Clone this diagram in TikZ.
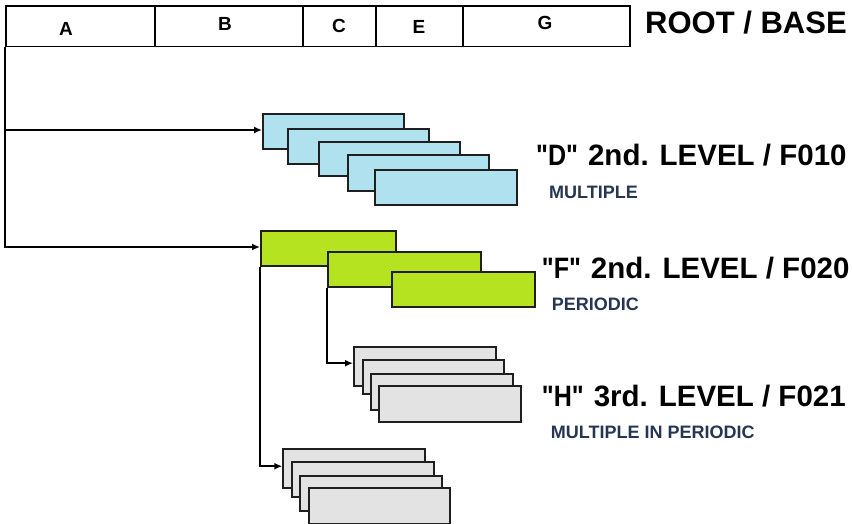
\documentclass[tikz,border=0pt]{standalone}
\usepackage{fontspec}
\setmainfont{Liberation Sans}[Ligatures=TeXOff]
\usetikzlibrary{arrows.meta}
\definecolor{boxblue}{HTML}{B0E1EE}
\definecolor{boxgreen}{HTML}{B5E31F}
\definecolor{boxgray}{HTML}{E3E3E3}
\definecolor{subtxt}{HTML}{263553}
\newcommand{\narrowtxt}[1]{\scalebox{0.85}[1]{#1}}
\newcommand{\qq}[1]{\narrowtxt{"#1"}}
\begin{document}
\begin{tikzpicture}[x=1pt,y=-1pt,
  cell/.style={draw=black,line width=1.6pt,minimum height=40.7pt,anchor=north west,inner sep=0pt},
  letter/.style={anchor=base,inner sep=0pt,font=\fontsize{19}{19}\selectfont\bfseries},
  card/.style={draw=black!88,line width=2pt,fill=#1,anchor=north west,inner sep=0pt},
  sz/.style 2 args={minimum width=#1pt,minimum height=#2pt},
  conn/.style={draw=black,line width=1.6pt,-{Latex[length=8pt,width=7pt]}},
  big/.style={anchor=base west,inner sep=0pt,font=\fontsize{29.5}{29.5}\selectfont\bfseries},
  small/.style={anchor=base west,inner sep=0pt,text=subtxt,font=\fontsize{18}{18}\selectfont\bfseries}]
\useasboundingbox (0,0) rectangle (852,523);

% top bar
\node[cell,minimum width=149pt] (cA) at (5,5) {};
\node[cell,minimum width=148pt] (cB) at (154,5) {};
\node[cell,minimum width=73pt] (cC) at (302,5) {};
\node[cell,minimum width=87pt] (cE) at (375,5) {};
\node[cell,minimum width=167pt] (cG) at (462,5) {};
\node[letter] (lA) at (66,35) {A};
\node[letter] (lB) at (225,30.5) {B};
\node[letter] (lC) at (339,32.5) {C};
\node[letter] (lE) at (419,33) {E};
\node[letter] (lG) at (545,29) {G};
\node[big,font=\fontsize{31}{31}\selectfont\bfseries] (root) at (645,33) {ROOT / BASE};

% blue stack "D"
\node[card=boxblue,sz={141}{35}] (d1) at (262,113) {};
\node[card=boxblue,sz={141}{34.5}] (d2) at (287,128) {};
\node[card=boxblue,sz={141}{34}] (d3) at (318,141) {};
\node[card=boxblue,sz={141}{36}] (d4) at (347,154) {};
\node[card=boxblue,sz={142}{35}] (d5) at (374,169) {};

% green stack "F"
\node[card=boxgreen,sz={135}{35}] (f1) at (260,229.5) {};
\node[card=boxgreen,sz={153.3}{34.5}] (f2) at (326.7,251) {};
\node[card=boxgreen,sz={143.3}{35}] (f3) at (390.7,271) {};

% upper gray stack "H"
\node[card=boxgray,sz={142}{39}] (u1) at (353,345.7) {};
\node[card=boxgray,sz={141.3}{34.5}] (u2) at (361.7,358.7) {};
\node[card=boxgray,sz={141.7}{35.4}] (u3) at (370,373.3) {};
\node[card=boxgray,sz={141.7}{35.4}] (u4) at (378.3,385.3) {};

% lower gray stack
\node[card=boxgray,sz={142}{39}] (l1) at (282.3,447.7) {};
\node[card=boxgray,sz={142}{35}] (l2) at (290.7,460.7) {};
\node[card=boxgray,sz={141.7}{35}] (l3) at (299.3,475) {};
\node[card=boxgray,sz={141.6}{35.7}] (l4) at (307.7,487) {};

% connectors
\draw[conn] (cA.south west) |- ([yshift=1.5pt]d1.west);
\draw[conn] (cA.south west) |- ([yshift=1pt]f1.west);
\draw[conn] (f2.south west) |- ([yshift=3pt]u1.west);
\draw[conn] (f1.south west) |- ([yshift=2pt]l1.west);

% labels
\node[big] (tD) at (536,165) {\qq{D}\hspace{10pt}2nd. LEVEL / F010};
\node[small] (sD) at (549,198) {MULTIPLE};
\node[big] (tF) at (541.7,278) {\qq{F}\hspace{10pt}2nd. LEVEL / F020};
\node[small] (sF) at (551.7,310) {PERIODIC};
\node[big] (tH) at (541.7,406.7) {\qq{H}\hspace{10pt}3rd. LEVEL / F021};
\node[small] (sH) at (550.7,438) {MULTIPLE IN PERIODIC};
\end{tikzpicture}
\end{document}
